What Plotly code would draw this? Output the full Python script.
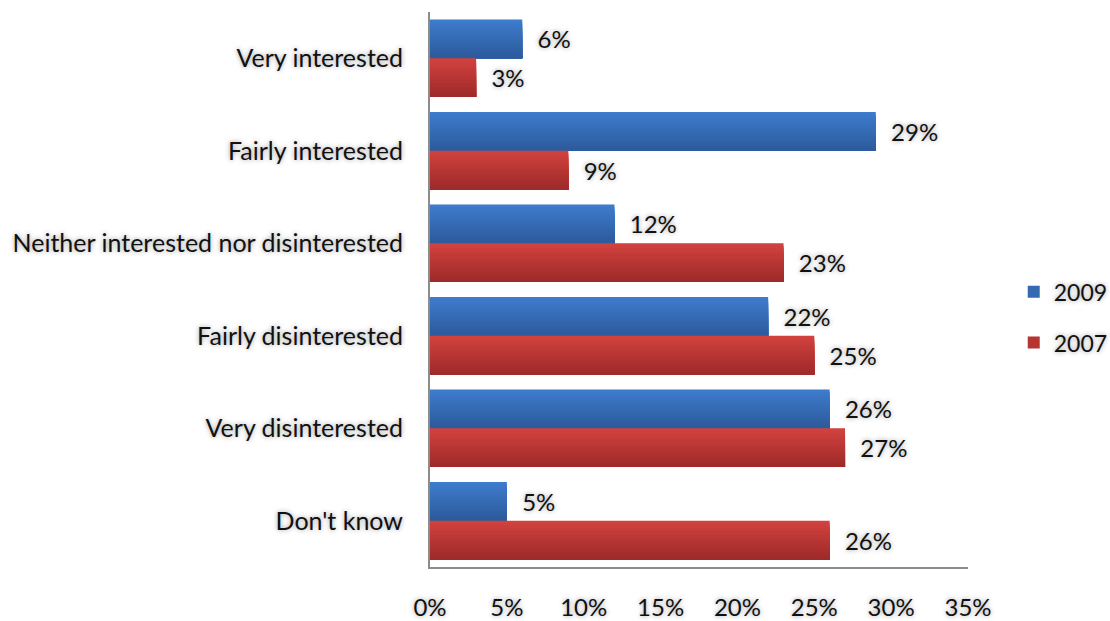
import plotly.graph_objects as go

categories = [
    "Very interested",
    "Fairly interested",
    "Neither interested nor disinterested",
    "Fairly disinterested",
    "Very disinterested",
    "Don't know",
]
values_2009 = [6, 29, 12, 22, 26, 5]
values_2007 = [3, 9, 23, 25, 27, 26]
x_ticks = [0, 5, 10, 15, 20, 25, 30, 35]

FONT = "Lato"
SHADOW = "0px 0px 5px #9c9c9c"
VALUE_FONT = dict(family=FONT, size=24, color="#111", shadow=SHADOW, weight=400)
CAT_FONT = dict(family=FONT, size=25, color="#111", shadow=SHADOW, weight=400)
LEGEND_FONT = dict(family=FONT, size=23, color="#111", shadow=SHADOW, weight=400)

BAR_W = 0.418          # thickness of one bar in category units
STRIPES = 16           # layers used to shade each bar top-to-bottom


def mix(c1, c2, t):
    a = [int(c1[i:i + 2], 16) for i in (1, 3, 5)]
    b = [int(c2[i:i + 2], 16) for i in (1, 3, 5)]
    return "#" + "".join(f"{round(x + (y - x) * t):02x}" for x, y in zip(a, b))


series = [
    ("2009", values_2009, "#3d7bcc", "#2d5b9c", -BAR_W),
    ("2007", values_2007, "#d1413e", "#9e2b2a", 0.0),
]

fig = go.Figure()
for name, vals, top, bottom, start in series:
    step = BAR_W / STRIPES
    for i in range(STRIPES):
        # each layer runs from its own top edge down to the bar's bottom edge,
        # so successive layers overlap and leave no seams
        fig.add_trace(go.Bar(
            y=categories, x=vals, orientation="h", name=name,
            width=BAR_W - i * step, offset=start + i * step,
            marker=dict(color=mix(top, bottom, i / (STRIPES - 1)), line=dict(width=0)),
            legendgroup=name, showlegend=(i == STRIPES // 2),
            hoverinfo="skip",
        ))
    # full-thickness transparent bar carrying the value labels
    fig.add_trace(go.Bar(
        y=categories, x=vals, orientation="h", name=name,
        width=BAR_W, offset=start,
        marker=dict(color="rgba(0,0,0,0)", line=dict(width=0)),
        text=[f"\u00a0\u00a0{v}%" for v in vals],
        textposition="outside", cliponaxis=False,
        textfont=VALUE_FONT, legendgroup=name, showlegend=False,
    ))

fig.update_layout(
    width=1110, height=621,
    margin=dict(l=430, r=142, t=12, b=54, autoexpand=False),
    barmode="overlay",
    plot_bgcolor="white", paper_bgcolor="white",
    font=VALUE_FONT,
    showlegend=True,
    legend=dict(
        x=1.085, y=0.45, xanchor="left", yanchor="middle",
        traceorder="grouped", tracegroupgap=18,
        font=LEGEND_FONT, itemwidth=30, bgcolor="rgba(0,0,0,0)",
    ),
)
fig.update_xaxes(
    range=[0, 35], tickvals=x_ticks, ticktext=[f"{t}%" for t in x_ticks],
    showgrid=False, zeroline=False, showline=True, linecolor="#8c8c8c",
    linewidth=2, ticks="", ticklabelstandoff=18, automargin=False,
    tickfont=VALUE_FONT,
)
fig.update_yaxes(
    autorange="reversed", showgrid=False, showline=True,
    linecolor="#8c8c8c", linewidth=2, ticks="", ticklabelstandoff=20,
    automargin=False, tickfont=CAT_FONT,
)

fig.write_html("out.html")
